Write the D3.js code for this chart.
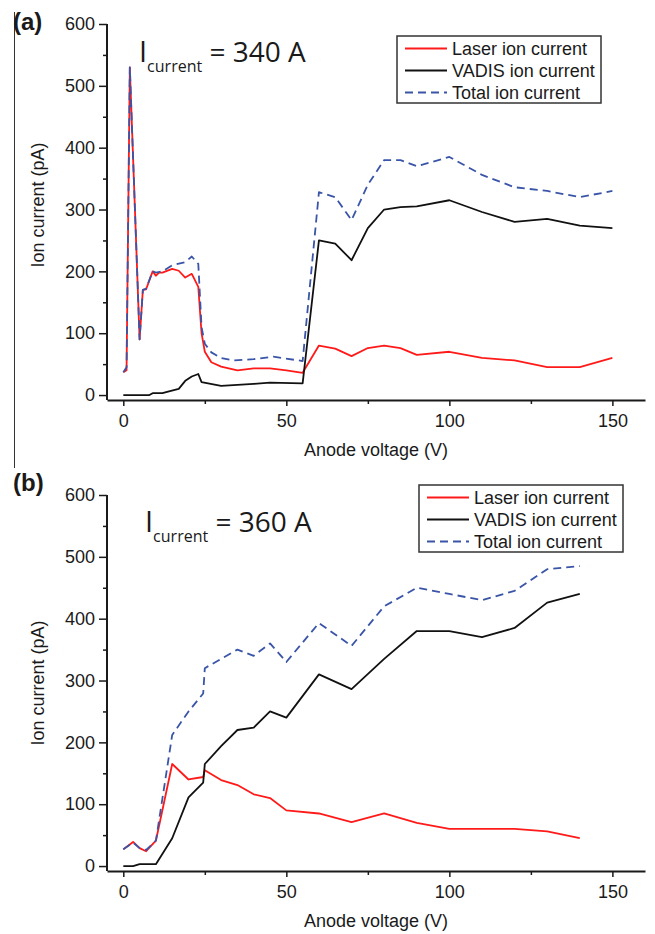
<!DOCTYPE html>
<html>
<head>
<meta charset="utf-8">
<script src="https://cdn.jsdelivr.net/npm/d3@7"></script>
<style>
  body { margin: 0; background: #fff; }
  svg { display: block; }
  text { font-family: "Liberation Sans", Arial, sans-serif; fill: #1a1a1a; }
  .axis path, .axis line { stroke: #1a1a1a; }
  .note text, .note tspan { font-family: "Open Sans", sans-serif; }
</style>
</head>
<body>
<svg id="chart"></svg>
<script>
// panel (a), I = 340 A
const laserA_x = [0,1,2,5,6,7,9,10,11,12,14,15,17,19,21,23,24,25,27,30,35,40,45,50,55,60,65,70,75,80,85,90,100,110,120,130,140,150];
const laserA_y = [37,40,530,90,170,171,200,193,198,198,202,204,201,190,196,175,100,70,53,46,40,43,43,40,36,80,75,63,76,80,76,65,70,60,56,45,45,60];
const vadisA_x = [0,8,9,12,14,17,19,21,23,24,30,40,45,55,60,65,70,75,80,85,90,100,110,120,130,140,150];
const vadisA_y = [0,0,3,3,6,10,23,30,34,21,15,18,20,19,250,245,218,270,300,304,305,315,296,280,285,274,270];
const totalA_x = [0,1,2,5,6,7,9,10,12,15,19,21,23,24,25,27,30,34,40,46,55,60,65,70,75,80,85,90,100,110,120,130,140,150];
const totalA_y = [37,45,530,90,170,172,200,198,200,210,215,224,212,110,83,69,60,56,58,62,55,328,320,283,340,380,380,370,385,356,336,330,320,330];

// panel (b), I = 360 A
const laserB_x = [0,3,5,7,10,15,20,24.5,25,30,35,40,45,50,60,70,80,90,100,110,120,130,140];
const laserB_y = [27,39,29,24,41,165,140,144,155,139,131,116,110,90,85,71,85,70,60,60,60,56,45];
const vadisB_x = [0,3,5,10,15,20,24.5,25,30,35,40,45,50,60,70,80,90,100,110,120,130,140];
const vadisB_y = [0,0,3,3,45,111,135,165,194,220,224,250,240,310,286,335,380,380,370,385,426,440];
const totalB_x = [0,3,5,7,10,15,20,24.5,25,30,35,40,45,50,60,70,80,90,100,110,120,130,140];
const totalB_y = [27,38,29,26,41,212,250,279,320,335,350,340,360,330,393,356,420,450,440,430,445,480,485];

const seriesNames = ["Laser ion current", "VADIS ion current", "Total ion current"];
const xTicks = [0, 50, 100, 150];
const xMinor = [25, 75, 125];
const yTicks = [0, 100, 200, 300, 400, 500, 600];
const yMinor = [50, 150, 250, 350, 450, 550];

const W = 655, H = 934;
const colors = ["#ff1a1a", "#111", "#3a55a8"];
const dashes = [null, null, "8,5"];

const svg = d3.select("#chart").attr("width", W).attr("height", H);

const x = d3.scaleLinear().domain([-5, 160]).range([107, 645]);

const panels = [
  { tag: "(a)", tagY: 30, top: 24, bottom: 400, amp: "340 A", noteX: 139, noteY: 62,
    legX: 397, legY: 36, ylabY: 205,
    series: [[laserA_x, laserA_y], [vadisA_x, vadisA_y], [totalA_x, totalA_y]] },
  { tag: "(b)", tagY: 491, top: 495, bottom: 871, amp: "360 A", noteX: 145, noteY: 532,
    legX: 419, legY: 485, ylabY: 683,
    series: [[laserB_x, laserB_y], [vadisB_x, vadisB_y], [totalB_x, totalB_y]] }
];

// frame line on the left of panel (a)
svg.append("line")
  .attr("x1", 14.5).attr("x2", 14.5).attr("y1", 12).attr("y2", 468)
  .attr("stroke", "#333").attr("stroke-width", 1);

panels.forEach(p => {
  const y = d3.scaleLinear().domain([-8, 600]).range([p.bottom, p.top]);
  const g = svg.append("g");

  // axes
  g.append("g").attr("class", "axis").attr("transform", `translate(0,${p.bottom})`)
    .call(d3.axisBottom(x).tickValues(xTicks).tickSize(6).tickSizeOuter(0).tickPadding(8));
  g.append("g").attr("class", "axis").attr("transform", `translate(0,${p.bottom})`)
    .call(d3.axisBottom(x).tickValues(xMinor).tickSize(4).tickFormat(""))
    .select(".domain").remove();
  const ya = g.append("g").attr("class", "axis").attr("transform", `translate(107,0)`)
    .call(d3.axisLeft(y).tickValues(yTicks).tickSize(8).tickSizeOuter(0).tickPadding(4));
  g.append("g").attr("class", "axis").attr("transform", `translate(107,0)`)
    .call(d3.axisLeft(y).tickValues(yMinor).tickSize(4).tickFormat(""))
    .select(".domain").remove();
  // the y axis runs from 600 down to the x axis
  ya.select(".domain").attr("d", `M0,${y(600)}V${p.bottom}`);
  g.selectAll(".axis .domain").attr("stroke-width", 2);
  g.selectAll(".axis .tick line").attr("stroke-width", 1.5);
  g.selectAll(".axis text").style("font-size", "18px").attr("fill", "#1a1a1a");

  g.append("text").attr("x", 376).attr("y", p.bottom + 56)
    .attr("text-anchor", "middle").style("font-size", "18px").text("Anode voltage (V)");
  g.append("text").attr("transform", `translate(44,${p.ylabY}) rotate(-90)`)
    .attr("text-anchor", "middle").style("font-size", "18px").text("Ion current (pA)");

  g.append("text").attr("x", 13).attr("y", p.tagY)
    .style("font-size", "24px").style("font-weight", "bold").text(p.tag);

  // data lines
  const line = d3.line().x(d => x(d[0])).y(d => y(d[1]));
  p.series.forEach((s, i) => {
    const pts = s[0].map((v, k) => [v, s[1][k]]);
    g.append("path").datum(pts)
      .attr("fill", "none").attr("stroke", colors[i]).attr("stroke-width", 1.8)
      .attr("stroke-linejoin", "round")
      .attr("stroke-dasharray", dashes[i])
      .attr("d", line);
  });

  // current annotation
  const note = g.append("text").attr("class", "note").attr("x", p.noteX).attr("y", p.noteY);
  note.append("tspan").style("font-size", "29px").text("I");
  note.append("tspan").style("font-size", "16px").attr("dy", 10).text("current");
  note.append("tspan").style("font-size", "28px").attr("dy", -10).text(" = " + p.amp);

  // legend
  const leg = g.append("g").attr("transform", `translate(${p.legX},${p.legY})`);
  leg.append("rect").attr("width", 204).attr("height", 67)
    .attr("fill", "#fff").attr("stroke", "#333").attr("stroke-width", 1.5);
  seriesNames.forEach((n, i) => {
    const ry = 12.5 + i * 22;
    leg.append("line").attr("x1", 8).attr("x2", 50).attr("y1", ry).attr("y2", ry)
      .attr("stroke", colors[i]).attr("stroke-width", 1.8).attr("stroke-dasharray", dashes[i]);
    leg.append("text").attr("x", 55).attr("y", ry + 6.5)
      .style("font-size", "18px").text(n);
  });
});
</script>
</body>
</html>
